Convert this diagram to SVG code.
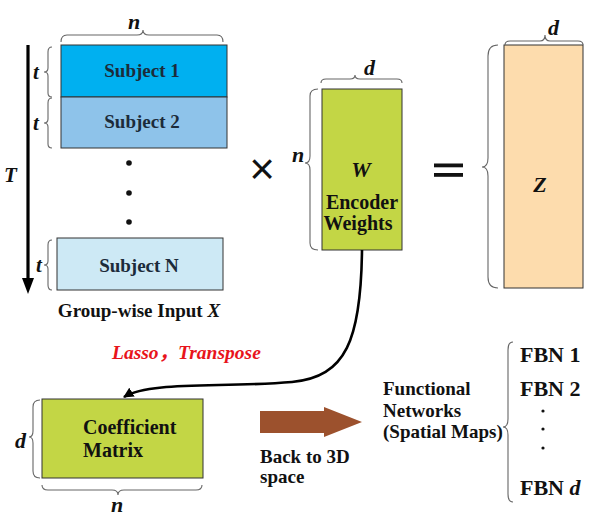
<svg xmlns="http://www.w3.org/2000/svg" width="598" height="520" viewBox="0 0 598 520">
<defs>
<style>
.t{font-family:"Liberation Serif","Times New Roman",serif;font-weight:bold;fill:#111}
.i{font-family:"Liberation Serif","Times New Roman",serif;font-weight:bold;font-style:italic;fill:#111}
.sub{font-family:"Liberation Serif","Times New Roman",serif;font-weight:bold;fill:#1c2b3a;font-size:19px;text-anchor:middle}
.box{stroke:#333;stroke-width:1}
.br{fill:none;stroke:#666;stroke-width:1.1}
.green{fill:#c3d645}
</style>
<marker id="ah" viewBox="0 0 10 10" refX="9" refY="5" markerWidth="4" markerHeight="4" orient="auto">
<path d="M0,0 L10,5 L0,10 Z" fill="#000"/>
</marker>
</defs>
<rect width="598" height="520" fill="#fff"/>

<g id="input-X">
<rect x="61" y="45" width="166" height="52" fill="#00b0f0" class="box"/>
<text x="142" y="77" class="sub">Subject 1</text>
<rect x="61" y="97" width="166" height="51" fill="#8ec3ea" class="box"/>
<text x="142" y="128" class="sub">Subject 2</text>
<circle cx="129" cy="163" r="2.8" fill="#111"/>
<circle cx="129" cy="193" r="2.8" fill="#111"/>
<circle cx="129" cy="222" r="2.8" fill="#111"/>
<rect x="57" y="238" width="166" height="52" fill="#cde9f5" class="box"/>
<text x="139" y="272" class="sub">Subject N</text>
<path class="br" d="M61 42 Q61 35 67 35 L137 35 Q143 35 143 30 Q143 35 149 35 L217 35 Q223 35 223 42"/>
<text x="128" y="29" class="i" font-size="22">n</text>
<path class="br" d="M52 47 Q48 47 48 52 L48 68 Q48 72 44 72 Q48 72 48 76 L48 93 Q48 97 52 97"/>
<text x="33" y="79" class="i" font-size="21">t</text>
<path class="br" d="M52 98 Q48 98 48 103 L48 119 Q48 123 44 123 Q48 123 48 127 L48 144 Q48 148 52 148"/>
<text x="33" y="130" class="i" font-size="21">t</text>
<path class="br" d="M52 240 Q48 240 48 245 L48 261 Q48 265 44 265 Q48 265 48 269 L48 285 Q48 290 52 290"/>
<text x="36" y="272" class="i" font-size="21">t</text>
<line x1="28" y1="45" x2="28" y2="280" stroke="#000" stroke-width="3.2"/>
<path d="M22 278 L34 278 L28 294 Z" fill="#000"/>
<text x="4" y="182" class="i" font-size="21">T</text>
<text x="139" y="317" class="t" font-size="19" text-anchor="middle">Group-wise Input <tspan font-style="italic">X</tspan></text>
</g>

<g id="times">
<text x="262" y="184" font-family="Liberation Sans, Arial, sans-serif" font-size="44" text-anchor="middle" fill="#111">×</text>
</g>

<g id="W">
<rect x="322" y="89" width="80" height="161" class="box green"/>
<text x="361" y="177" class="i" font-size="22" text-anchor="middle">W</text>
<text x="362" y="209" class="t" font-size="20" text-anchor="middle">Encoder</text>
<text x="358" y="230" class="t" font-size="20" text-anchor="middle">Weights</text>
<path class="br" d="M321 83 Q321 79 326 79 L350 79 Q355 79 355 75 Q355 79 360 79 L397 79 Q402 79 402 83"/>
<text x="364" y="75" class="i" font-size="22">d</text>
<path class="br" d="M318 89 Q310 89 310 96 L310 156 Q310 163 305 163 Q310 163 310 170 L310 243 Q310 250 318 250"/>
<text x="292" y="162" class="i" font-size="22">n</text>
</g>

<g id="equals">
<rect x="434" y="163.5" width="29" height="3.8" fill="#111"/>
<rect x="434" y="173" width="29" height="3.8" fill="#111"/>
</g>

<g id="Z">
<rect x="504" y="45" width="79" height="243" fill="#fddcad" class="box"/>
<text x="540" y="192" class="i" font-size="22" text-anchor="middle">Z</text>
<path class="br" d="M505 45 Q505 41 510 41 L540 41 Q545 41 545 35 Q545 41 550 41 L578 41 Q583 41 583 45"/>
<text x="548" y="35" class="i" font-size="22">d</text>
<path class="br" d="M498 45 Q488 45 488 56 L488 158 Q488 167 482 167 Q488 167 488 176 L488 277 Q488 288 498 288"/>
</g>

<g id="coef">
<rect x="42" y="399" width="161" height="79" class="box green"/>
<text x="83" y="434" class="t" font-size="20">Coefficient</text>
<text x="83" y="457" class="t" font-size="20">Matrix</text>
<path class="br" d="M40 400 Q33 400 33 407 L33 431 Q33 437 29 437 Q33 437 33 443 L33 471 Q33 478 40 478"/>
<text x="15" y="448" class="i" font-size="22">d</text>
<path class="br" d="M42 485 Q42 490 48 490 L112 490 Q118 490 118 495 Q118 490 124 490 L196 490 Q202 490 202 485"/>
<text x="111" y="512" class="i" font-size="22">n</text>
</g>

<g id="connectors">
<path d="M362 250 C361 340 346 377 292 382 C220 388 150 381 124 397" fill="none" stroke="#000" stroke-width="2.6" marker-end="url(#ah)"/>
<text x="112" y="359" font-family="Liberation Serif, Noto Sans CJK SC, serif" font-weight="bold" font-style="italic" font-size="19.5" fill="#e8141b">Lasso，Transpose</text>
<path d="M260 411 L324 411 L324 407 L362 422 L324 437 L324 433 L260 433 Z" fill="#9c512d"/>
<text x="260" y="463" class="t" font-size="19">Back to 3D</text>
<text x="260" y="483" class="t" font-size="19">space</text>
</g>

<g id="networks">
<text x="383" y="395" class="t" font-size="19">Functional</text>
<text x="383" y="417" class="t" font-size="19">Networks</text>
<text x="383" y="438" class="t" font-size="19">(Spatial Maps)</text>
<path class="br" d="M513 342 Q508 342 508 350 L508 419 Q508 427 503 427 Q508 427 508 435 L508 494 Q508 502 513 502"/>
<text x="520" y="362" class="t" font-size="22">FBN 1</text>
<text x="520" y="396" class="t" font-size="22">FBN 2</text>
<circle cx="543" cy="411" r="1.6" fill="#111"/>
<circle cx="543" cy="429" r="1.6" fill="#111"/>
<circle cx="543" cy="448" r="1.6" fill="#111"/>
<text x="520" y="495" class="t" font-size="22">FBN <tspan font-style="italic">d</tspan></text>
</g>
</svg>
